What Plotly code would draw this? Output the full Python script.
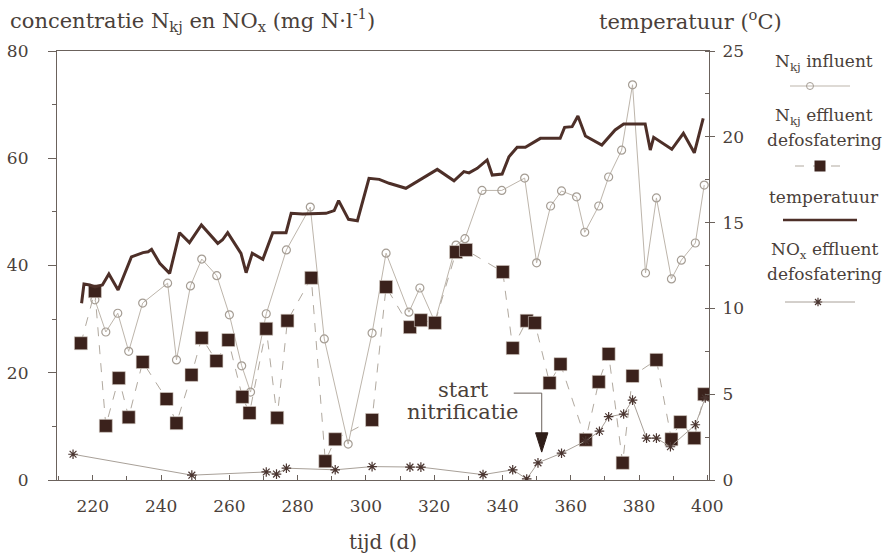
import plotly.graph_objects as go

# ---- data ----
infl_d = [220.6, 223.8, 227.3, 230.5, 234.6, 241.9, 244.5, 248.6, 251.9, 256.3, 260.0, 263.6, 266.2,
          270.8, 276.7, 283.7, 287.8, 294.8, 301.8, 305.9, 312.6, 315.8, 320.2, 326.4, 329.0, 334.0,
          339.8, 346.5, 350.0, 354.1, 357.3, 361.7, 364.1, 368.2, 371.1, 374.9, 378.1, 381.9, 385.1,
          389.5, 392.4, 396.5, 399.1]
infl_v = [33.6, 27.6, 31.1, 24.0, 33.0, 36.7, 22.4, 36.2, 41.2, 38.1, 30.8, 21.3, 16.4,
          31.0, 42.9, 50.9, 26.3, 6.7, 27.4, 42.3, 31.3, 35.8, 29.5, 43.8, 45.0, 54.0,
          54.0, 56.3, 40.5, 51.1, 53.9, 52.8, 46.2, 51.1, 56.5, 61.5, 73.7, 38.6, 52.6,
          37.5, 41.0, 44.2, 55.0]

effl_d = [216.5, 220.6, 223.8, 227.6, 230.5, 234.6, 241.6, 244.5, 248.9, 251.9, 256.2, 259.7, 263.8,
          265.9, 270.8, 274.0, 277.0, 284.0, 288.1, 291.0, 301.8, 305.9, 312.9, 316.1, 320.2, 326.4,
          329.3, 340.1, 343.0, 347.1, 349.5, 353.8, 357.0, 364.4, 368.2, 371.1, 375.2, 378.1, 385.1,
          389.5, 392.1, 396.2, 399.1]
effl_v = [25.5, 35.2, 10.1, 19.0, 11.7, 22.0, 15.1, 10.6, 19.6, 26.5, 22.2, 26.1, 15.5,
          12.5, 28.2, 11.6, 29.7, 37.7, 3.5, 7.6, 11.2, 36.0, 28.5, 29.8, 29.3, 42.5,
          42.9, 38.8, 24.6, 29.7, 29.3, 18.1, 21.6, 7.5, 18.3, 23.5, 3.2, 19.4, 22.4,
          7.6, 10.8, 7.8, 16.0]

nox_d = [214.2, 249.0, 270.8, 273.8, 276.7, 291.0, 301.8, 312.9, 316.1, 334.3, 343.0, 347.1,
         350.4, 357.3, 364.4, 368.4, 371.1, 375.5, 378.1, 382.2, 385.1, 389.2, 396.5, 399.4]
nox_v = [4.8, 0.9, 1.5, 1.1, 2.2, 1.9, 2.5, 2.4, 2.4, 1.0, 1.9, 0.2,
         3.2, 5.0, 7.3, 9.1, 11.8, 12.3, 14.9, 7.8, 7.8, 6.2, 10.3, 15.3]

temp_d = [216.7, 217.4, 219.1, 220.6, 222.8, 224.7, 227.4, 231.3, 234.7, 236.2, 237.2, 239.6, 242.5,
          245.4, 248.3, 251.8, 256.6, 258.0, 259.5, 263.4, 264.9, 266.7, 269.8, 272.7, 276.6, 278.1,
          281.5, 284.4, 288.3, 290.7, 292.0, 294.9, 297.5, 300.9, 303.9, 306.8, 311.7, 320.9, 325.8,
          328.7, 330.2, 332.6, 335.5, 337.0, 339.9, 341.9, 344.3, 346.7, 351.1, 356.9, 358.2, 360.4,
          362.1, 364.3, 369.1, 373.0, 375.5, 381.8, 383.3, 384.3, 389.6, 393.0, 396.2, 398.8]
temp_v = [10.30, 11.42, 11.36, 11.25, 11.36, 12.0, 11.07, 13.0, 13.25, 13.3, 13.44, 12.63, 12.04,
          14.41, 13.83, 14.86, 13.79, 14.0, 14.41, 13.21, 12.08, 13.21, 12.86, 14.41, 14.41, 15.54,
          15.5, 15.5, 15.54, 15.7, 16.28, 15.19, 15.11, 17.58, 17.52, 17.29, 17.0, 18.1, 17.44,
          17.97, 17.9, 18.16, 18.65, 17.77, 17.83, 18.84, 19.39, 19.39, 19.91, 19.91, 20.55, 20.59,
          21.21, 20.05, 19.52, 20.4, 20.75, 20.75, 19.23, 19.97, 19.27, 20.2, 19.07, 21.08]

x_ticks = [220, 240, 260, 280, 300, 320, 340, 360, 380, 400]
y_ticks = [0, 20, 40, 60, 80]
y2_ticks = [0, 5, 10, 15, 20, 25]

TXT = "#4a3f3a"
AX = "#6b625c"
DARK = "#3b221c"
STAR = "#4a3530"
FONT = "DejaVu Serif"

fig = go.Figure()

fig.add_trace(go.Scatter(x=infl_d, y=infl_v, mode="lines+markers", name="Nkj influent",
                         line=dict(color="#bdb5ab", width=1),
                         marker=dict(symbol="circle-open", size=8, color="#a59d94", line=dict(width=1.2)),
                         showlegend=False))
fig.add_trace(go.Scatter(x=effl_d, y=effl_v, mode="lines+markers", name="Nkj effluent",
                         line=dict(color="#b1a99f", width=1, dash="dash"),
                         marker=dict(symbol="square", size=13, color=DARK, line=dict(color="#d8d0c8", width=0.6)),
                         showlegend=False))
fig.add_trace(go.Scatter(x=nox_d, y=nox_v, mode="lines+markers", name="NOx effluent",
                         line=dict(color="#a8a098", width=1),
                         marker=dict(symbol="asterisk-open", size=8, color=STAR, line=dict(color=STAR, width=1.2)),
                         showlegend=False))
fig.add_trace(go.Scatter(x=temp_d, y=temp_v, mode="lines", name="temperatuur", yaxis="y2",
                         line=dict(color="#4d2f28", width=3), showlegend=False))

# ---- legend samples on an auxiliary axis (pixel-like coordinates) ----
fig.add_trace(go.Scatter(x=[790, 850], y=[86, 86], mode="lines", line=dict(color="#bdb5ab", width=1),
                         xaxis="x3", yaxis="y3", showlegend=False, hoverinfo="skip"))
fig.add_trace(go.Scatter(x=[810], y=[86], mode="markers",
                         marker=dict(symbol="circle-open", size=7, color="#a59d94"),
                         xaxis="x3", yaxis="y3", showlegend=False, hoverinfo="skip"))
fig.add_trace(go.Scatter(x=[795, 845], y=[166, 166], mode="lines",
                         line=dict(color="#b1a99f", width=1, dash="dash"),
                         xaxis="x3", yaxis="y3", showlegend=False, hoverinfo="skip"))
fig.add_trace(go.Scatter(x=[820], y=[166], mode="markers",
                         marker=dict(symbol="square", size=11, color=DARK),
                         xaxis="x3", yaxis="y3", showlegend=False, hoverinfo="skip"))
fig.add_trace(go.Scatter(x=[783, 857], y=[220, 220], mode="lines", line=dict(color="#4d2f28", width=2.5),
                         xaxis="x3", yaxis="y3", showlegend=False, hoverinfo="skip"))
fig.add_trace(go.Scatter(x=[785, 855], y=[302, 302], mode="lines", line=dict(color="#a8a098", width=1),
                         xaxis="x3", yaxis="y3", showlegend=False, hoverinfo="skip"))
fig.add_trace(go.Scatter(x=[818], y=[302], mode="markers",
                         marker=dict(symbol="asterisk-open", size=7, color=STAR, line=dict(color=STAR, width=1.2)),
                         xaxis="x3", yaxis="y3", showlegend=False, hoverinfo="skip"))

leg_texts = [("N<sub>kj</sub> influent", 62), ("N<sub>kj</sub> effluent", 116), ("defosfatering", 140),
             ("temperatuur", 197), ("NO<sub>x</sub> effluent", 250), ("defosfatering", 274)]

annotations = []
for t, yy in leg_texts:
    annotations.append(dict(x=824, y=yy, xref="x3", yref="y3", text=t, showarrow=False,
                            xanchor="center", yanchor="middle", font=dict(family=FONT, size=17, color=TXT)))

annotations += [
    dict(x=(8 - 57) / 824, y=1.072, xref="paper", yref="paper", xanchor="left", yanchor="middle",
         text="concentratie N<sub>kj</sub> en NO<sub>x</sub> (mg N·l<sup>-1</sup>)", showarrow=False,
         font=dict(family=FONT, size=21, color=TXT)),
    dict(x=(597 - 57) / 824, y=1.072, xref="paper", yref="paper", xanchor="left", yanchor="middle",
         text="temperatuur (<sup>o</sup>C)", showarrow=False, font=dict(family=FONT, size=21, color=TXT)),
    dict(x=328.6, y=16.8, xref="x", yref="y", text="start", showarrow=False,
         xanchor="center", yanchor="middle", font=dict(family=FONT, size=21, color=TXT)),
    dict(x=328.4, y=12.7, xref="x", yref="y", text="nitrificatie", showarrow=False,
         xanchor="center", yanchor="middle", font=dict(family=FONT, size=21, color=TXT)),
]

shapes = [
    dict(type="line", xref="x", yref="y", x0=343.3, x1=351.5, y0=16.2, y1=16.2,
         line=dict(color="#6b625c", width=1)),
    dict(type="line", xref="x", yref="y", x0=351.5, x1=351.5, y0=16.2, y1=8.6,
         line=dict(color="#6b625c", width=1)),
    dict(type="path", xref="x", yref="y", path="M 349.7 8.8 L 353.3 8.8 L 351.5 5.2 Z",
         fillcolor="#2e1d18", line=dict(color="#2e1d18", width=1)),
]

xdom_end = (709 - 57) / 824
fig.update_layout(
    width=886, height=556,
    margin=dict(l=57, r=5, t=51, b=76, autoexpand=False),
    paper_bgcolor="white", plot_bgcolor="white",
    font=dict(family=FONT, color=TXT),
    xaxis=dict(domain=[0, xdom_end], range=[209.5, 400.5], tickvals=x_ticks, automargin=False,
               showgrid=False, zeroline=False, showline=True, mirror=True, linecolor=AX, linewidth=1.2,
               ticks="inside", ticklen=5, tickcolor=AX, ticklabelstandoff=10,
               minor=dict(dtick=10, tick0=0, ticks="inside", ticklen=4, tickcolor=AX),
               tickfont=dict(family=FONT, size=17, color=TXT),
               title=dict(text="tijd (d)", font=dict(family=FONT, size=20, color=TXT), standoff=20)),
    yaxis=dict(range=[0, 80], tickvals=y_ticks, showgrid=False, zeroline=False, showline=True,
               automargin=False, linecolor=AX, linewidth=1.2, ticks="outside", ticklen=8, tickcolor=AX,
               ticklabelstandoff=16,
               minor=dict(dtick=10, tick0=0, ticks="outside", ticklen=4, tickcolor=AX),
               tickfont=dict(family=FONT, size=17, color=TXT)),
    yaxis2=dict(range=[0, 25], tickvals=y2_ticks, overlaying="y", side="right", anchor="x",
                automargin=False, showgrid=False, zeroline=False, showline=True, linecolor=AX, linewidth=1.2,
                ticks="outside", ticklen=5, tickcolor=AX, ticklabelstandoff=4,
                minor=dict(dtick=2.5, tick0=0, ticks="inside", ticklen=4, tickcolor=AX),
                tickfont=dict(family=FONT, size=17, color=TXT)),
    xaxis3=dict(domain=[(755 - 57) / 824, 1.0], range=[755, 886 - 5], visible=False, anchor="y3",
                fixedrange=True, automargin=False),
    yaxis3=dict(domain=[0, 1], range=[480, 51], visible=False, anchor="x3", fixedrange=True,
                automargin=False),
    annotations=annotations,
    shapes=shapes,
)

fig.write_html("out.html")
